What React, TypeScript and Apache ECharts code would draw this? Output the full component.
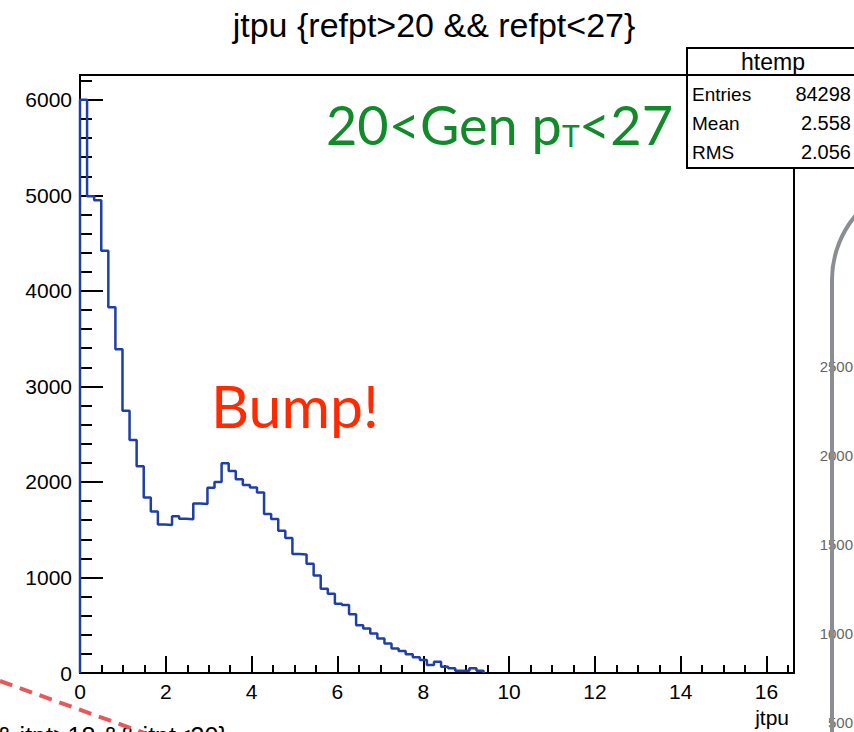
import { useEffect, useRef } from 'react';
import * as echarts from 'echarts';

// ---------- data ----------
const chartTitle = 'jtpu {refpt>20 && refpt<27}';
const xAxisTitle = 'jtpu';
const binWidth = 0.165;
const binCounts = [
  6000, 4990, 4950, 4420, 3830, 3390, 2745, 2440, 2163, 1836,
  1690, 1555, 1550, 1640, 1615, 1610, 1775, 1770, 1940, 2000,
  2195, 2115, 2028, 1969, 1941, 1889, 1664, 1611, 1490, 1414,
  1245, 1240, 1143, 1021, 882, 830, 725, 712, 615, 500,
  465, 413, 361, 309, 257, 229, 195, 164, 135, 83,
  118, 66, 49, 24, 24, 49, 24,
];
const xMax = 16.64;
const yMax = 6260;
const xMajorStep = 2;
const xMinorStep = 0.5;
const yMajorStep = 1000;
const yMinorStep = 200;

const statsName = 'htemp';
const statsLabels = ['Entries', 'Mean', 'RMS'];
const statsValues = ['84298', '2.558', '2.056'];

const greenMain = '20<Gen p';
const greenSub = 'T';
const greenTail = '<27';
const bumpText = 'Bump!';
const sideLabels = ['2500', '2000', '1500', '1000', '500'];
const bottomText = '& jtpt>18 && jtpt<30}';

// ---------- layout / style ----------
const FONT = 'Liberation Sans';
const grid = { left: 80, top: 75, width: 714, height: 598 };
const axisLine = { color: '#000', width: 2 };

export default function App() {
  const ref = useRef<HTMLDivElement>(null);

  useEffect(() => {
    if (!ref.current) return;
    const chart = echarts.init(ref.current, null, { renderer: 'svg', width: 854, height: 732 });

    const histData: number[][] = [[0, 0]];
    binCounts.forEach((c, i) => histData.push([i * binWidth, c]));
    histData.push([binCounts.length * binWidth, 0]);

    const isMult = (v: number, s: number) => Math.abs(v / s - Math.round(v / s)) < 1e-6;

    const graphic: any[] = [
      {
        type: 'text', x: 434, y: 25, z: 50,
        style: { text: chartTitle, fill: '#000', fontSize: 34, fontFamily: FONT, align: 'center', verticalAlign: 'middle' },
      },
      {
        type: 'text', x: 789, y: 717, z: 50,
        style: { text: xAxisTitle, fill: '#000', fontSize: 21, fontFamily: FONT, align: 'right', verticalAlign: 'middle' },
      },
      // stats box
      {
        type: 'rect', z: 100,
        shape: { x: 687, y: 48, width: 220, height: 120 },
        style: { fill: '#fff', stroke: '#000', lineWidth: 2 },
      },
      {
        type: 'line', z: 101,
        shape: { x1: 687, y1: 75, x2: 860, y2: 75 },
        style: { stroke: '#000', lineWidth: 2 },
      },
      {
        type: 'text', x: 773, y: 62, z: 102,
        style: { text: statsName, fill: '#000', fontSize: 23, fontFamily: FONT, align: 'center', verticalAlign: 'middle' },
      },
      ...statsLabels.map((t, i) => ({
        type: 'text', x: 692, y: 94 + i * 29, z: 102,
        style: { text: t, fill: '#000', fontSize: 19, fontFamily: FONT, align: 'left', verticalAlign: 'middle' },
      })),
      ...statsValues.map((t, i) => ({
        type: 'text', x: 851, y: 94 + i * 29, z: 102,
        style: { text: t, fill: '#000', fontSize: 20, fontFamily: FONT, align: 'right', verticalAlign: 'middle' },
      })),
      // annotations
      {
        type: 'text', x: 326, y: 124, z: 60,
        style: { text: greenMain, fill: '#138a2a', fontSize: 54, fontFamily: 'Lato', align: 'left', verticalAlign: 'middle' },
      },
      {
        type: 'text', x: 562, y: 135, z: 60,
        style: { text: greenSub, fill: '#138a2a', fontSize: 30, fontFamily: 'Lato', align: 'left', verticalAlign: 'middle' },
      },
      {
        type: 'text', x: 673, y: 124, z: 60,
        style: { text: greenTail, fill: '#138a2a', fontSize: 54, fontFamily: 'Lato', align: 'right', verticalAlign: 'middle' },
      },
      {
        type: 'text', x: 211, y: 405, z: 60,
        style: { text: bumpText, fill: '#ff2a00', fontSize: 59, fontFamily: 'Lato', align: 'left', verticalAlign: 'middle' },
      },
      // neighbouring panel (right)
      ...sideLabels.map((t, i) => ({
        type: 'text', x: 853, y: 366 + i * 89, z: 60,
        style: { text: t, fill: '#666', fontSize: 15, fontFamily: FONT, align: 'right', verticalAlign: 'middle' },
      })),
      {
        type: 'rect', z: 61,
        shape: { x: 832, y: 180, width: 300, height: 800, r: 100 },
        style: { fill: 'none', stroke: '#8a8d91', lineWidth: 4 },
      },
      // neighbouring text (bottom left)
      {
        type: 'text', x: -4, y: 736, z: 60,
        style: { text: bottomText, fill: '#000', fontSize: 25, fontFamily: FONT, align: 'left', verticalAlign: 'middle' },
      },
      {
        type: 'line', z: 62,
        shape: { x1: 0, y1: 681, x2: 150, y2: 735 },
        style: { stroke: '#e8585a', lineWidth: 4, lineDash: [13, 8] },
      },
    ];

    const option: any = {
      animation: false,
      backgroundColor: '#fff',
      grid: {
        ...grid,
        show: true,
        borderColor: '#000',
        borderWidth: 2,
        backgroundColor: 'transparent',
        containLabel: false,
        outerBoundsMode: 'none',
      },
      xAxis: [
        {
          type: 'value', min: 0, max: xMax, interval: xMinorStep, position: 'bottom',
          axisLine: { show: true, onZero: false, lineStyle: axisLine },
          axisTick: { show: true, inside: true, length: 8, lineStyle: axisLine },
          axisLabel: { show: false },
          splitLine: { show: false },
        },
        {
          type: 'value', min: 0, max: xMax, interval: xMajorStep, position: 'bottom',
          axisLine: { show: false, onZero: false },
          axisTick: { show: true, inside: true, length: 17, lineStyle: axisLine },
          axisLabel: {
            show: true, fontSize: 21, fontFamily: FONT, color: '#000', margin: 8,
            formatter: (v: number) => (isMult(v, xMajorStep) ? String(v) : ''),
          },
          splitLine: { show: false },
        },
      ],
      yAxis: [
        {
          type: 'value', min: 0, max: yMax, interval: yMinorStep, position: 'left',
          axisLine: { show: true, onZero: false, lineStyle: axisLine },
          axisTick: { show: true, inside: true, length: 12, lineStyle: axisLine },
          axisLabel: { show: false },
          splitLine: { show: false },
        },
        {
          type: 'value', min: 0, max: yMax, interval: yMajorStep, position: 'left',
          axisLine: { show: false, onZero: false },
          axisTick: { show: true, inside: true, length: 23, lineStyle: axisLine },
          axisLabel: {
            show: true, fontSize: 21, fontFamily: FONT, color: '#000', margin: 8,
            formatter: (v: number) => (isMult(v, yMajorStep) ? String(v) : ''),
          },
          splitLine: { show: false },
        },
      ],
      series: [
        {
          type: 'line', xAxisIndex: 0, yAxisIndex: 0, step: 'end', symbol: 'none',
          data: histData, silent: true, z: 3,
          lineStyle: { color: '#1e3fa6', width: 2.5 },
        },
      ],
      graphic,
    };

    chart.setOption(option);
    return () => chart.dispose();
  }, []);

  return (
    <div
      ref={ref}
      style={{ position: 'absolute', left: 0, top: 0, width: 854, height: 732, background: '#fff', overflow: 'hidden' }}
    />
  );
}
